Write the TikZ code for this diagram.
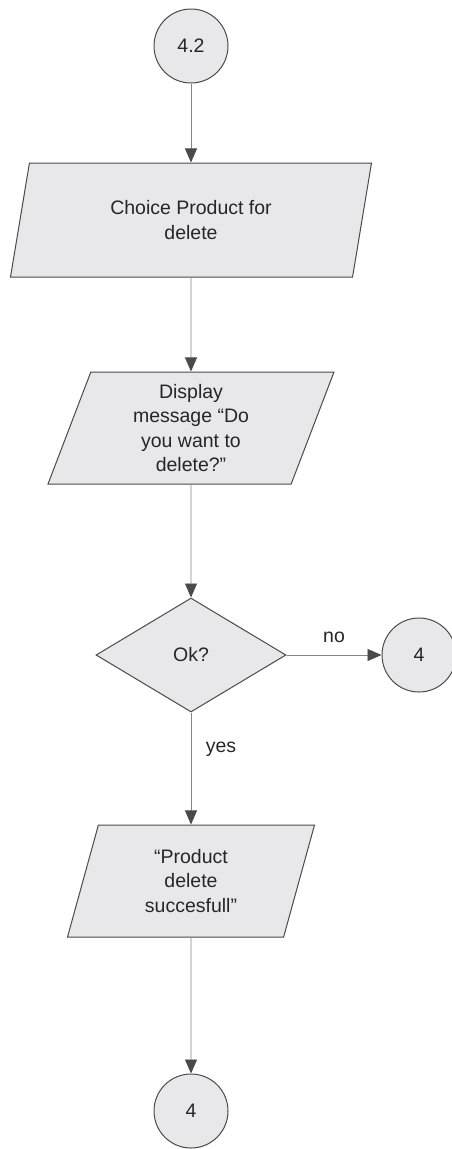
\documentclass[tikz,border=0pt]{standalone}
\usepackage{fontspec}
\setmainfont{Liberation Sans}
\usetikzlibrary{shapes.geometric, arrows.meta, positioning}
\definecolor{shapefill}{HTML}{E8E8EA}
\definecolor{shapeline}{HTML}{4A4A4A}
\definecolor{flowline}{HTML}{858585}

\tikzset{
    every node/.style={font=\fontsize{19.5}{24.5}\selectfont, text=black!85},
    connector/.style={circle, draw=shapeline, fill=shapefill, line width=1pt,
        minimum size=74pt, inner sep=0pt},
    iobox/.style={trapezium, trapezium left angle=64, trapezium right angle=116,
        trapezium stretches body=true, draw=shapeline, fill=shapefill,
        line width=1pt, inner sep=0pt, align=center},
    decision/.style={diamond, aspect=1.67, draw=shapeline, fill=shapefill,
        line width=1pt, minimum width=190pt, minimum height=114pt, inner sep=0pt},
    flow/.style={draw=flowline, line width=0.9pt,
        -{Triangle[length=14pt, width=12pt, color=shapeline]}}
}

\begin{document}
\begin{tikzpicture}[x=1pt, y=-1pt]
    \useasboundingbox (0,0) rectangle (452,1149);

    % Blocks
    \node[connector] (p42) at (191,46) {4.2};
    \node[iobox, minimum width=361pt, minimum height=114pt] (choose) at (191,220)
        {Choice Product for\\delete};
    \node[iobox, minimum width=286pt, minimum height=112pt] (askmsg) at (191,428)
        {Display\\message “Do\\you want to\\delete?”};
    \node[decision] (okq) at (191,655) {Ok?};
    \node[connector] (back) at (419,655) {4};
    \node[iobox, minimum width=247pt, minimum height=112pt] (donemsg) at (191,881)
        {“Product\\delete\\succesfull”};
    \node[connector] (finish) at (191,1111) {4};

    % Arrows
    \draw[flow] (p42) -- (choose);
    \draw[flow] (choose) -- (askmsg);
    \draw[flow] (askmsg) -- (okq);
    \draw[flow] (okq) -- node[midway, above=9pt] (nolabel) {no} (back);
    \draw[flow] (okq) -- node[pos=0.33, right=11pt] (yeslabel) {yes} (donemsg);
    \draw[flow] (donemsg) -- (finish);
\end{tikzpicture}
\end{document}
